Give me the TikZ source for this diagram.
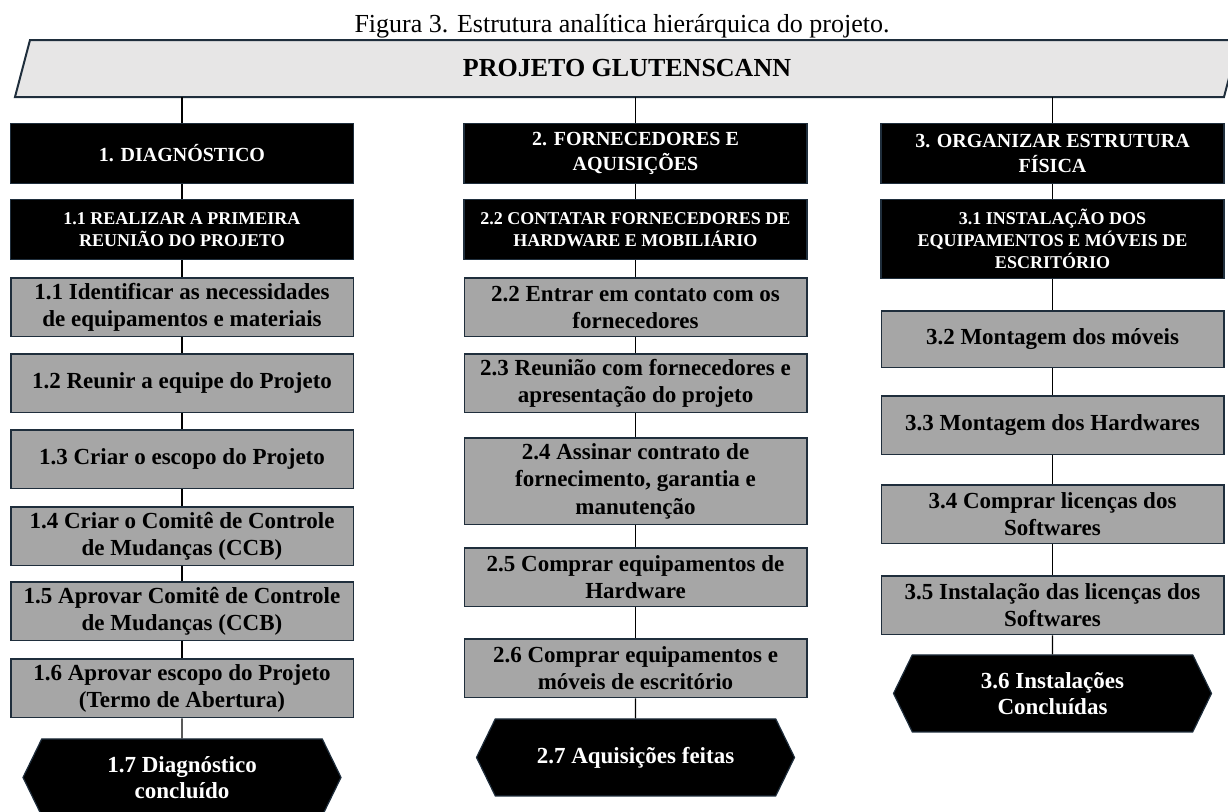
\documentclass[tikz,border=0pt]{standalone}
\usepackage{fontspec}
\setmainfont{Liberation Serif}
\usepackage{xcolor}
\usepackage{tikz}
\usetikzlibrary{shapes,positioning,backgrounds}
\definecolor{edge}{HTML}{1F2E3C}
\definecolor{boxgray}{HTML}{A6A6A6}
\definecolor{rootgray}{HTML}{E7E6E6}
\tikzstyle{head} = [rectangle, draw=edge, line width=1.2pt, fill=black, text=white,
    minimum width=343pt, minimum height=60pt, align=center, inner sep=2pt,
    font=\bfseries\fontsize{20}{25}\selectfont]
\tikzstyle{subhead} = [head, font=\bfseries\fontsize{18}{22}\selectfont]
\tikzstyle{block} = [rectangle, draw=edge, line width=1.5pt, fill=boxgray,
    minimum width=342.5pt, minimum height=58.5pt, align=center, inner sep=2pt,
    font=\bfseries\fontsize{23}{27.5}\selectfont]
\tikzstyle{goal} = [signal, signal to=east and west, signal pointer angle=128,
    draw=edge, line width=1.2pt, fill=black, text=white,
    minimum width=318pt, minimum height=77pt, align=center, inner sep=2pt,
    font=\bfseries\fontsize{23}{26}\selectfont]
\tikzstyle{line} = [draw, line width=1.4pt]

\begin{document}
\begin{tikzpicture}[x=1pt,y=-1pt]
            \useasboundingbox (0,0) rectangle (1228,811);
            % Title
            \node [anchor=base, font=\fontsize{26}{30}\selectfont] (cap) at (622,32)
                {Figura 3. Estrutura analítica hierárquica do projeto.};
            \node [rectangle, minimum width=1209pt, minimum height=57pt, outer sep=0pt,
                   font=\bfseries\fontsize{26}{30}\selectfont] (root) at (627,68.5)
                {PROJETO GLUTENSCANN};

            % Main packages
            \node [head] (h1) at (182,153.5) {1. DIAGNÓSTICO};
            \node [head] (h2) at (635.5,153.5) {2. FORNECEDORES E\\AQUISIÇÕES};
            \node [head] (h3) at (1052.5,153.5) {3. ORGANIZAR ESTRUTURA\\FÍSICA};

            % Diagnostico
            \node [subhead] (s1) [below=15pt of h1] {1.1 REALIZAR A PRIMEIRA\\REUNIÃO DO PROJETO};
            \node [block] (a1) [below=17pt of s1] {1.1 Identificar as necessidades\\de equipamentos e materiais};
            \node [block] (a2) [below=16pt of a1] {1.2 Reunir a equipe do Projeto};
            \node [block] (a3) [below=16pt of a2] {1.3 Criar o escopo do Projeto};
            \node [block] (a4) [below=17pt of a3] {1.4 Criar o Comitê de Controle\\de Mudanças (CCB)};
            \node [block] (a5) [below=15pt of a4] {1.5 Aprovar Comitê de Controle\\de Mudanças (CCB)};
            \node [block] (a6) [below=17pt of a5] {1.6 Aprovar escopo do Projeto\\(Termo de Abertura)};
            \node [goal] (e1) [below=20pt of a6] {1.7 Diagnóstico\\concluído};

            % Fornecedores
            \node [subhead] (s2) [below=15pt of h2] {2.2 CONTATAR FORNECEDORES DE\\HARDWARE E MOBILIÁRIO};
            \node [block] (b1) [below=17pt of s2] {2.2 Entrar em contato com os\\fornecedores};
            \node [block] (b2) [below=16pt of b1] {2.3 Reunião com fornecedores e\\apresentação do projeto};
            \node [block, minimum height=86.5pt] (b3) [below=24pt of b2] {2.4 Assinar contrato de\\fornecimento, garantia e\\manutenção};
            \node [block] (b4) [below=22pt of b3] {2.5 Comprar equipamentos de\\Hardware};
            \node [block] (b5) [below=31pt of b4] {2.6 Comprar equipamentos e\\móveis de escritório};
            \node [goal] (e2) [below=20pt of b5] {2.7 Aquisições feitas};

            % Estrutura fisica
            \node [subhead, minimum height=79pt] (s3) [below=15pt of h3] {3.1 INSTALAÇÃO DOS\\EQUIPAMENTOS E MÓVEIS DE\\ESCRITÓRIO};
            \node [block, minimum height=56.5pt] (c1) [below=31pt of s3] {3.2 Montagem dos móveis};
            \node [block] (c2) [below=27pt of c1] {3.3 Montagem dos Hardwares};
            \node [block] (c3) [below=29pt of c2] {3.4 Comprar licenças dos\\Softwares};
            \node [block] (c4) [below=31pt of c3] {3.5 Instalação das licenças dos\\Softwares};
            \node [goal] (e3) [below=19pt of c4] {3.6 Instalações\\Concluídas};

            % Connect everything
            \foreach \h in {h1,h2,h3}
                \path [line] (root.south -| \h.north) -- (\h.north);
            \foreach \a/\b in {h1/s1,s1/a1,a1/a2,a2/a3,a3/a4,a4/a5,a5/a6,a6/e1,
                               h2/s2,s2/b1,b1/b2,b2/b3,b3/b4,b4/b5,b5/e2,
                               h3/s3,s3/c1,c1/c2,c2/c3,c3/c4,c4/e3}
                \path [line] (\a) -- (\b);

            % Background
            \begin{scope}[on background layer]
                \draw [draw=edge, line width=2pt, fill=rootgray]
                    ([xshift=-7.5pt]root.south west) -- ([xshift=7.5pt]root.north west)
                    -- ([xshift=7.5pt]root.north east) -- ([xshift=-7.5pt]root.south east) -- cycle;
            \end{scope}
        \end{tikzpicture}
\end{document}
